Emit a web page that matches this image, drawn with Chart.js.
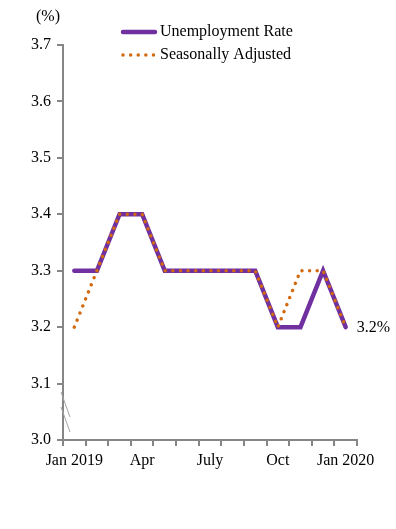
<!DOCTYPE html>
<html>
<head>
<meta charset="utf-8">
<script src="https://cdn.jsdelivr.net/npm/chart.js@4/dist/chart.umd.min.js"></script>
<style>
  html, body { margin: 0; padding: 0; background: #fff; }
  canvas { display: block; }
</style>
</head>
<body>
<canvas id="c" width="396" height="529"></canvas>
<script>
const categories = ['Jan 2019','Feb','Mar','Apr','May','Jun','July','Aug','Sep','Oct','Nov','Dec','Jan 2020'];
const tickLabels = ['Jan 2019','','','Apr','','','July','','','Oct','','','Jan 2020'];
const unemploymentRate = [3.3,3.3,3.4,3.4,3.3,3.3,3.3,3.3,3.3,3.2,3.2,3.3,3.2];
const seasonallyAdjusted = [3.2,3.3,3.4,3.4,3.3,3.3,3.3,3.3,3.3,3.2,3.3,3.3,3.2];
const seriesNames = ['Unemployment Rate','Seasonally Adjusted'];
const yTicks = [3.0,3.1,3.2,3.3,3.4,3.5,3.6,3.7];
const unitLabel = '(%)';
const endLabel = '3.2%';

const PURPLE = '#7030A0';
const ORANGE = '#D2690F';
const AXIS = '#868686';
const FONT = "'Liberation Serif', 'Times New Roman', serif";

Chart.defaults.font.family = FONT;
Chart.defaults.font.size = 16;
Chart.defaults.color = '#000';

const overlay = {
  id: 'overlay',
  afterDraw(chart) {
    const ctx = chart.ctx;
    const xs = chart.scales.x, ys = chart.scales.y;
    ctx.save();
    // axis break marks
    ctx.strokeStyle = '#a6a6a6';
    ctx.lineWidth = 1;
    const y0 = ys.getPixelForValue(3.0);
    const ax = chart.chartArea.left;
    ctx.beginPath();
    ctx.moveTo(ax - 2, y0 - 48); ctx.lineTo(ax + 7, y0 - 23);
    ctx.moveTo(ax - 2, y0 - 33); ctx.lineTo(ax + 7, y0 - 8);
    ctx.stroke();

    // unit label
    ctx.fillStyle = '#000';
    ctx.font = '16px ' + FONT;
    ctx.textAlign = 'center';
    ctx.textBaseline = 'middle';
    ctx.fillText(unitLabel, 48, 17);

    // end label
    const last = unemploymentRate.length - 1;
    ctx.textAlign = 'left';
    ctx.fillText(endLabel, xs.getPixelForValue(last) + 11, ys.getPixelForValue(unemploymentRate[last]) + 1);

    // legend
    const lx0 = 121, lx1 = 157, tx = 160;
    const r1 = 32, r2 = 55;
    ctx.lineCap = 'round';
    ctx.strokeStyle = PURPLE;
    ctx.lineWidth = 4.5;
    ctx.beginPath(); ctx.moveTo(lx0 + 2, r1); ctx.lineTo(lx1 - 2, r1); ctx.stroke();
    ctx.strokeStyle = ORANGE;
    ctx.lineWidth = 3.5;
    ctx.lineCap = 'round';
    ctx.setLineDash([0.01, 7.6]);
    ctx.beginPath(); ctx.moveTo(lx0 + 2, r2); ctx.lineTo(lx1, r2); ctx.stroke();
    ctx.setLineDash([]);
    ctx.fillStyle = '#000';
    ctx.textAlign = 'left';
    ctx.fillText(seriesNames[0], tx, r1);
    ctx.fillText(seriesNames[1], tx, r2);
    ctx.restore();
  }
};

new Chart(document.getElementById('c'), {
  type: 'line',
  data: {
    labels: tickLabels,
    datasets: [
      {
        label: seriesNames[0],
        data: unemploymentRate,
        borderColor: PURPLE,
        backgroundColor: PURPLE,
        borderWidth: 4.5,
        borderCapStyle: 'round',
        pointRadius: 0,
        tension: 0,
        order: 2
      },
      {
        label: seriesNames[1],
        data: seasonallyAdjusted,
        borderColor: ORANGE,
        backgroundColor: ORANGE,
        borderWidth: 3.5,
        borderDash: [0.01, 7.6],
        borderCapStyle: 'round',
        pointRadius: 0,
        tension: 0,
        order: 1
      }
    ]
  },
  options: {
    responsive: false,
    animation: false,
    devicePixelRatio: 1,
    layout: { padding: { left: 0, top: 45, right: 39, bottom: 59 } },
    plugins: { legend: { display: false }, tooltip: { enabled: false } },
    scales: {
      x: {
        type: 'category',
        offset: true,
        grid: {
          offset: true,
          drawOnChartArea: false,
          drawTicks: true,
          tickLength: 6,
          color: AXIS,
          lineWidth: 2
        },
        border: { display: true, color: AXIS, width: 2 },
        ticks: { autoSkip: false, maxRotation: 0, minRotation: 0, padding: 5, color: '#000', font: { size: 16, family: FONT } },
        afterFit(s) { s.height = 30; }
      },
      y: {
        min: 3.0,
        max: 3.7,
        afterBuildTicks(s) { s.ticks = yTicks.map(v => ({ value: v })); },
        grid: {
          drawOnChartArea: false,
          drawTicks: true,
          tickLength: 6,
          color: AXIS,
          lineWidth: 2
        },
        border: { display: true, color: AXIS, width: 2 },
        ticks: {
          padding: 6,
          color: '#000',
          font: { size: 16, family: FONT },
          callback: v => Number(v).toFixed(1)
        },
        afterFit(s) { s.width = 63; }
      }
    }
  },
  plugins: [overlay]
});
</script>
</body>
</html>
